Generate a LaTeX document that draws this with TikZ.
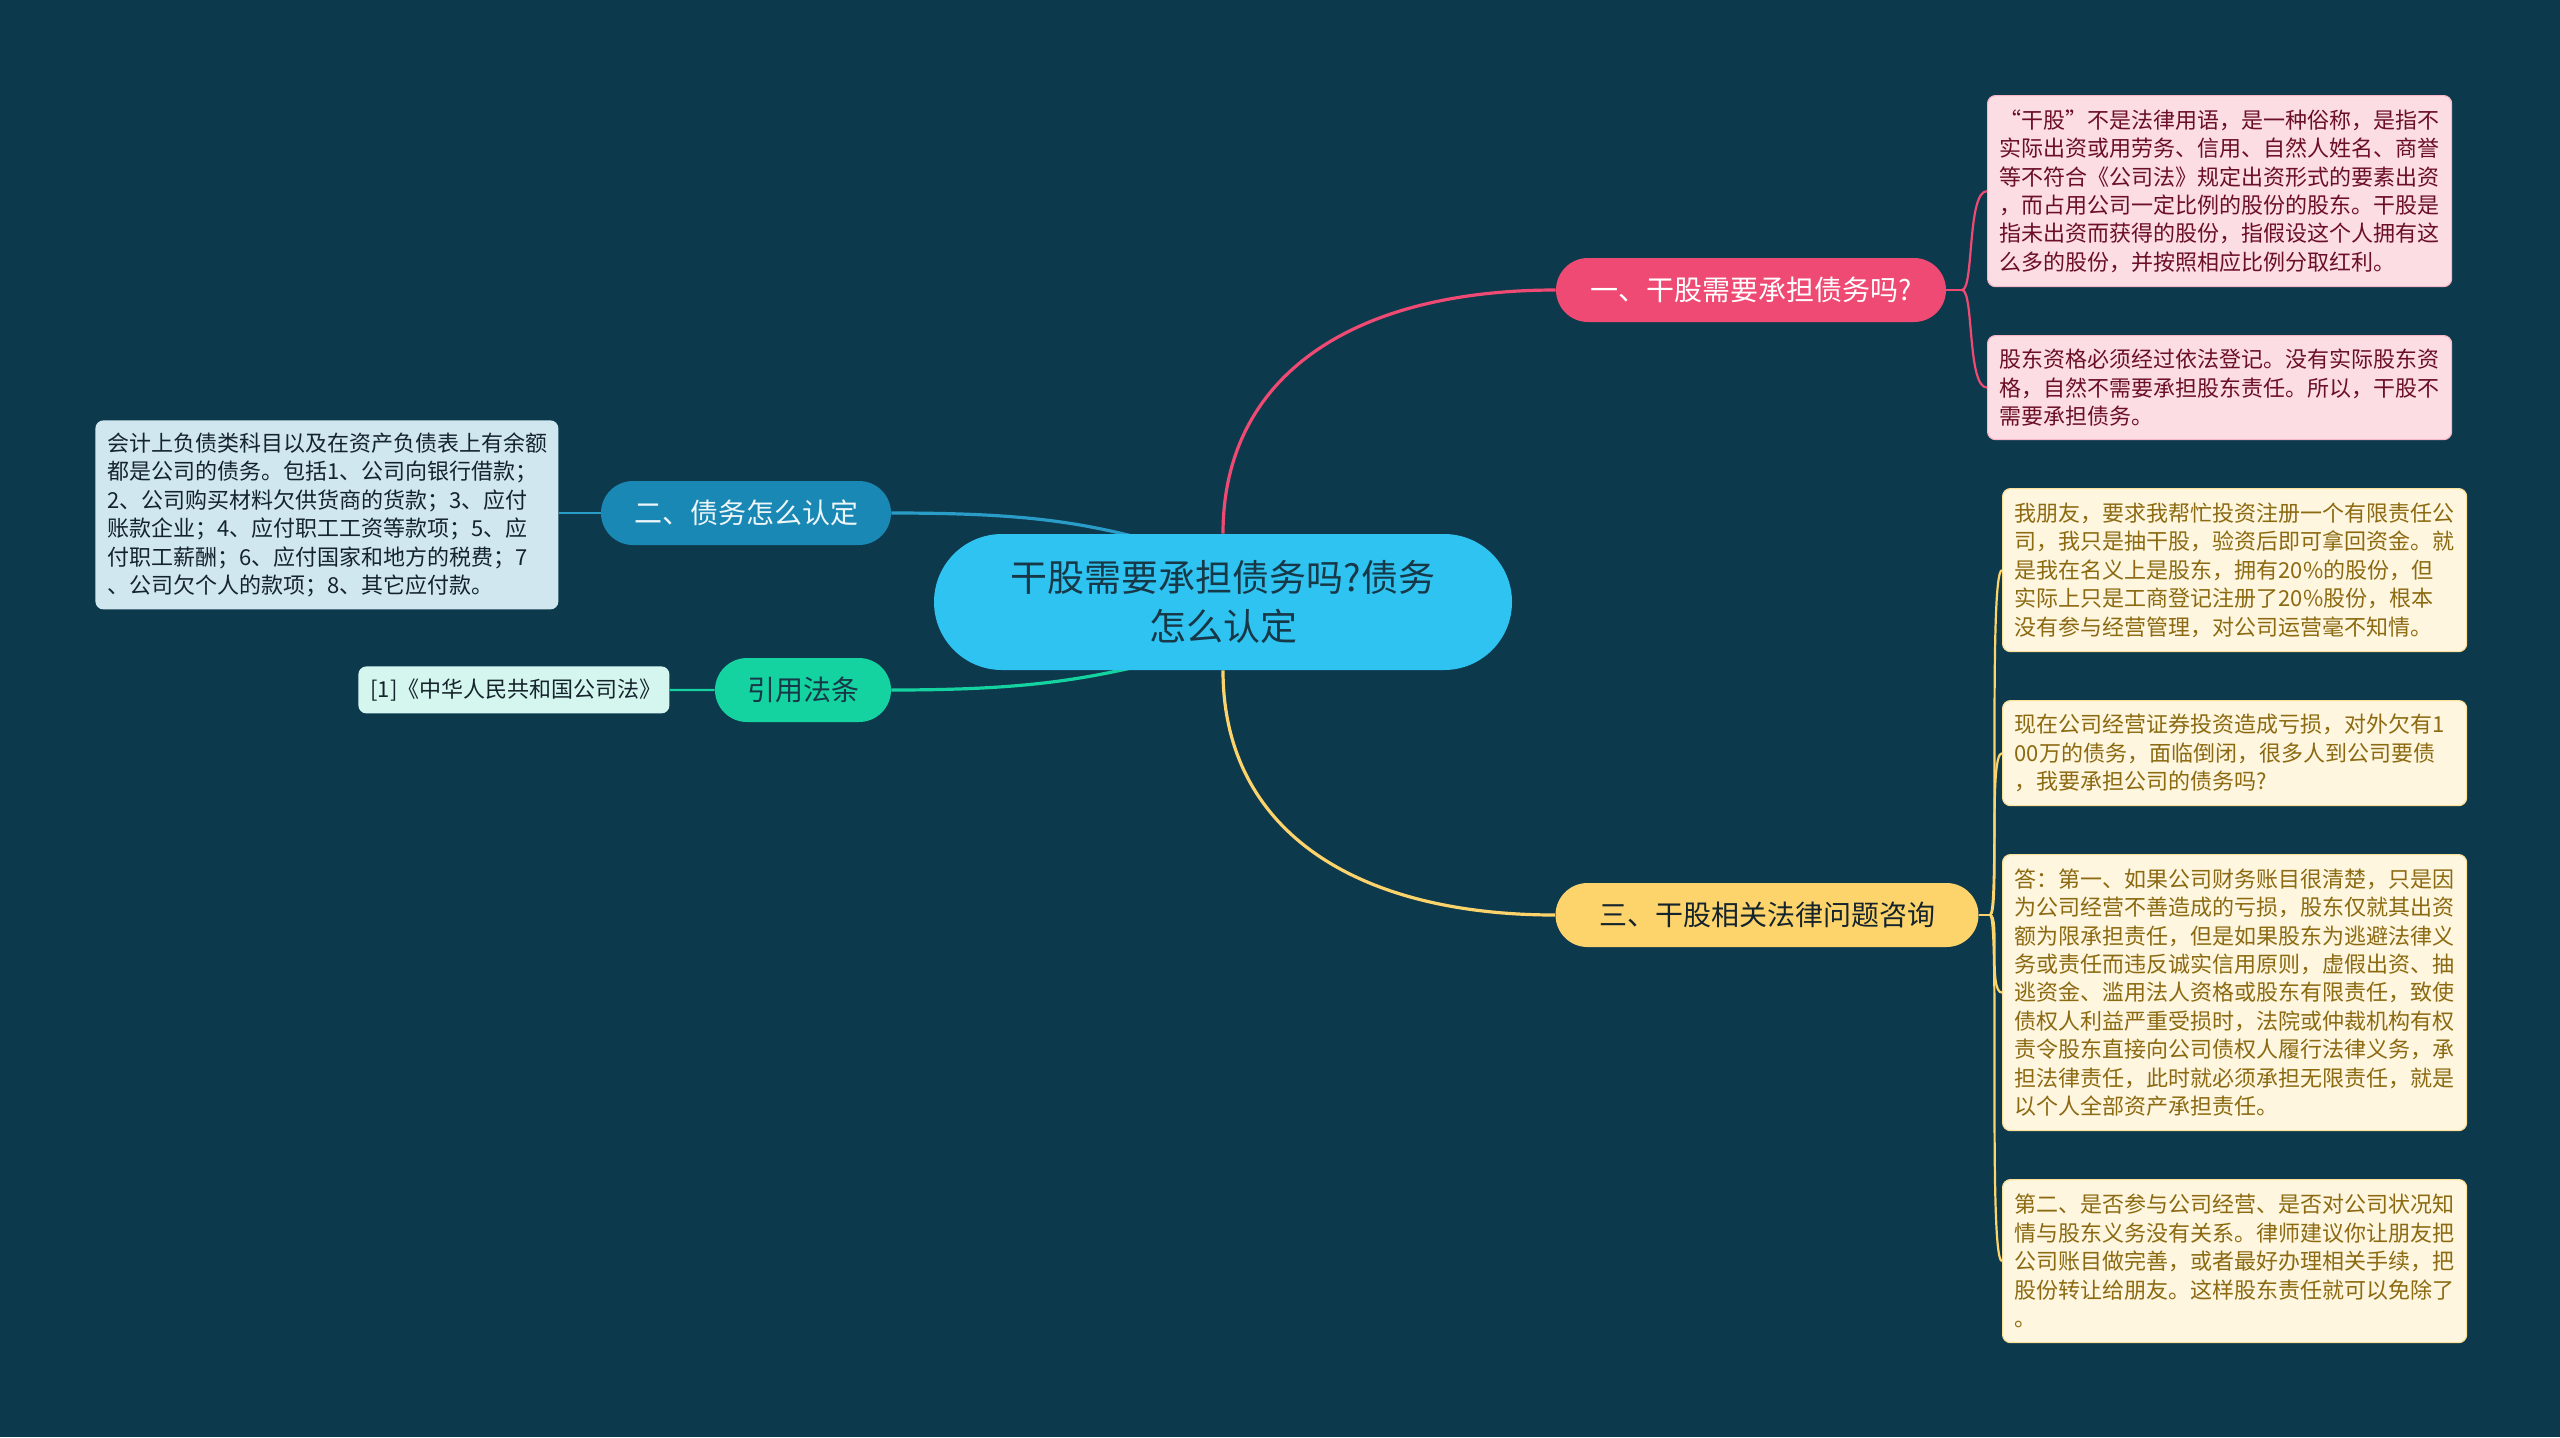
\documentclass[tikz,border=0pt]{standalone}
\usepackage{fontspec}
\newfontfamily\cjk{Noto Sans CJK SC}
\usetikzlibrary{calc}
\pgfdeclarelayer{back}
\pgfdeclarelayer{bg}
\pgfsetlayers{back,bg,main}
\definecolor{bgc}{HTML}{0D394C}
\definecolor{cfill}{HTML}{2FC3F1}
\definecolor{ctext}{HTML}{173847}
\definecolor{pinkc}{HTML}{EE4A73}
\definecolor{bluec}{HTML}{1A88B4}
\definecolor{bluel}{HTML}{2A9CC8}
\definecolor{greenc}{HTML}{15D2A1}
\definecolor{yelc}{HTML}{FDD46C}
\definecolor{pinkleaf}{HTML}{FCDDE4}
\definecolor{pinktext}{HTML}{6B0F26}
\definecolor{yelleaf}{HTML}{FEF6DF}
\definecolor{yeltext}{HTML}{8C6A12}
\definecolor{blueleaf}{HTML}{D0E7EF}
\definecolor{greenleaf}{HTML}{D5F6EF}
\definecolor{darktext}{HTML}{15242C}
\tikzset{
  centre/.style={fill=cfill, text=ctext, minimum width=289pt, minimum height=68pt,
    rounded corners=34pt, align=center, inner sep=0pt,
    font=\cjk\fontsize{18.5}{24.5}\selectfont},
  branch/.style={minimum height=32pt, rounded corners=16pt, inner sep=0pt,
    font=\cjk\fontsize{14}{17}\selectfont},
  leaf/.style={anchor=north west, rounded corners=4pt, align=left, inner xsep=6pt,
    inner ysep=0pt, text width=220pt, font=\cjk\fontsize{11}{14.2}\selectfont},
  pinkleafs/.style={leaf, fill=pinkleaf, draw=pinkc!40, line width=0.6pt, text=pinktext},
  yelleafs/.style={leaf, fill=yelleaf, draw=yelc!70, line width=0.6pt, text=yeltext},
  conn/.style={line width=1.6pt},
  sub/.style={line width=1.1pt}
}
\begin{document}
\begin{tikzpicture}[x=0.5pt,y=-0.5pt]
\begin{pgfonlayer}{back}
\fill[bgc] (0,0) rectangle (2560,1437);
\end{pgfonlayer}
\useasboundingbox (0,0) rectangle (2560,1437);

% centre
\node[centre] (c) at (1223,602) {干股需要承担债务吗?债务\\怎么认定};

% branches
\node[branch, fill=pinkc, text=white, minimum width=195pt] (b1) at (1751,290) {一、干股需要承担债务吗?};
\node[branch, fill=bluec, text=white!92!bluec, minimum width=145pt] (b2) at (746,513) {二、债务怎么认定};
\node[branch, fill=greenc, text=ctext, minimum width=88pt] (b4) at (803,690) {引用法条};
\node[branch, fill=yelc, text=darktext, minimum width=211.5pt] (b3) at (1767,915) {三、干股相关法律问题咨询};

% pink leaves
\node[pinkleafs, minimum height=95.5pt] (p1) at (1987,95) {“干股”不是法律用语，是一种俗称，是指不\\实际出资或用劳务、信用、自然人姓名、商誉\\等不符合《公司法》规定出资形式的要素出资\\，而占用公司一定比例的股份的股东。干股是\\指未出资而获得的股份，指假设这个人拥有这\\么多的股份，并按照相应比例分取红利。};
\node[pinkleafs, minimum height=52pt] (p2) at (1987,335) {股东资格必须经过依法登记。没有实际股东资\\格，自然不需要承担股东责任。所以，干股不\\需要承担债务。};

% yellow leaves
\node[yelleafs, minimum height=81.5pt] (y1) at (2002,488) {我朋友，要求我帮忙投资注册一个有限责任公\\司，我只是抽干股，验资后即可拿回资金。就\\是我在名义上是股东，拥有20\%的股份，但\\实际上只是工商登记注册了20\%股份，根本\\没有参与经营管理，对公司运营毫不知情。};
\node[yelleafs, minimum height=52.5pt] (y2) at (2002,700) {现在公司经营证券投资造成亏损，对外欠有1\\00万的债务，面临倒闭，很多人到公司要债\\，我要承担公司的债务吗?};
\node[yelleafs, minimum height=138pt] (y3) at (2002,854) {答：第一、如果公司财务账目很清楚，只是因\\为公司经营不善造成的亏损，股东仅就其出资\\额为限承担责任，但是如果股东为逃避法律义\\务或责任而违反诚实信用原则，虚假出资、抽\\逃资金、滥用法人资格或股东有限责任，致使\\债权人利益严重受损时，法院或仲裁机构有权\\责令股东直接向公司债权人履行法律义务，承\\担法律责任，此时就必须承担无限责任，就是\\以个人全部资产承担责任。};
\node[yelleafs, minimum height=81.5pt] (y4) at (2002,1179) {第二、是否参与公司经营、是否对公司状况知\\情与股东义务没有关系。律师建议你让朋友把\\公司账目做完善，或者最好办理相关手续，把\\股份转让给朋友。这样股东责任就可以免除了\\。};

% left leaves
\node[leaf, fill=blueleaf, text=darktext, minimum height=94.5pt, text width=219.5pt] (l1) at (95,420) {会计上负债类科目以及在资产负债表上有余额\\都是公司的债务。包括1、公司向银行借款；\\2、公司购买材料欠供货商的货款；3、应付\\账款企业；4、应付职工工资等款项；5、应\\付职工薪酬；6、应付国家和地方的税费；7\\、公司欠个人的款项；8、其它应付款。};
\node[leaf, fill=greenleaf, text=darktext, minimum height=23.5pt, text width=143.5pt] (l2) at (358,666) {[1]《中华人民共和国公司法》};

\coordinate (cb) at (1140,538);
\coordinate (cg) at (1140,666);
\coordinate (pj) at (1962,290);
\coordinate (yj) at (1990,915);

\begin{pgfonlayer}{bg}
  \draw[conn, pinkc] (c.north) .. controls +(0,-160) and +(-200,0) .. (b1.west);
  \draw[conn, yelc] (c.south) .. controls +(0,160) and +(-200,0) .. (b3.west);
  \draw[conn, bluel] (b2.east) .. controls +(120,0) and +(-70,-18) .. (cb);
  \draw[conn, greenc] (b4.east) .. controls +(120,0) and +(-70,16) .. (cg);
  % pink sub connectors
  \draw[sub, pinkc] (b1.east) -- (pj);
  \draw[sub, pinkc] (pj) .. controls +(12,0) and +(-20,0) .. (p1.west);
  \draw[sub, pinkc] (pj) .. controls +(12,0) and +(-20,0) .. (p2.west);
  % yellow sub connectors
  \draw[sub, yelc] (b3.east) -- (yj);
  \draw[sub, yelc] (yj) .. controls +(10,0) and +(-14,0) .. (y1.west);
  \draw[sub, yelc] (yj) .. controls +(10,0) and +(-14,0) .. (y2.west);
  \draw[sub, yelc] (yj) .. controls +(10,0) and +(-14,0) .. (y3.west);
  \draw[sub, yelc] (yj) .. controls +(10,0) and +(-14,0) .. (y4.west);
  % left connectors
  \draw[sub, bluel] (b2.west) -- (l1.east |- b2.west);
  \draw[sub, greenc] (b4.west) -- (l2.east);
\end{pgfonlayer}
\end{tikzpicture}
\end{document}
